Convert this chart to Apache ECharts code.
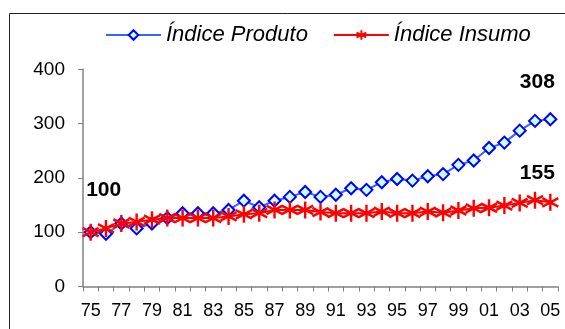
<!DOCTYPE html>
<html>
<head>
<meta charset="utf-8">
<script src="https://cdn.jsdelivr.net/npm/echarts@6/dist/echarts.min.js"></script>
<style>
  html, body { margin: 0; padding: 0; background: #ffffff; }
  #chart { width: 565px; height: 329px; }
</style>
</head>
<body>
<div id="chart"></div>
<script>
// Years 1975–2005 (two-digit labels)
const years = ['75','76','77','78','79','80','81','82','83','84','85','86','87','88','89','90',
               '91','92','93','94','95','96','97','98','99','00','01','02','03','04','05'];

// Índice Produto (1975 = 100)
const indiceProduto = [100, 97, 116, 107, 116, 126, 135, 135, 135, 141, 158, 146, 158, 165, 174, 165,
                       169, 181, 178, 192, 198, 195, 203, 207, 224, 232, 255, 265, 287, 305, 308];

// Índice Insumo (1975 = 100)
const indiceInsumo = [100, 107, 116, 119, 123, 126, 126, 126, 126, 129, 133, 135, 141, 141, 141, 137,
                      135, 135, 135, 138, 135, 135, 138, 136, 140, 144, 145, 149, 154, 159, 155];

const yTicks = [0, 100, 200, 300, 400];

const FONT = '"Liberation Sans", Arial, sans-serif';
const ASTERISK = 'path://M0,-10L0,10M-8.66,-5L8.66,5M-8.66,5L8.66,-5';

function valueLabel(offset) {
  return {
    show: true,
    position: 'top',
    offset: offset,
    formatter: '{c}',
    color: '#000000',
    fontFamily: FONT,
    fontWeight: 'bold',
    fontSize: 21
  };
}

// Attach value labels to the first and last points
function withLabels(values, labels) {
  return values.map((v, i) => labels[i] ? { value: v, label: labels[i] } : v);
}

const produtoData = withLabels(indiceProduto, {
  0: valueLabel([13, -19]),
  [indiceProduto.length - 1]: valueLabel([-13, -15])
});
const insumoData = withLabels(indiceInsumo, {
  [indiceInsumo.length - 1]: valueLabel([-13, -4])
});

const chart = echarts.init(document.getElementById('chart'), null, { renderer: 'canvas' });

chart.setOption({
  backgroundColor: '#ffffff',
  animation: false,
  textStyle: { fontFamily: FONT },
  graphic: [{
    type: 'rect',
    silent: true,
    shape: { x: 9.5, y: 13.5, width: 620, height: 400 },
    style: { fill: 'none', stroke: '#222222', lineWidth: 1 }
  }],
  legend: {
    top: 19,
    left: 100,
    itemWidth: 55,
    itemHeight: 12,
    itemGap: 25,
    textStyle: {
      fontFamily: FONT,
      fontStyle: 'italic',
      fontSize: 22,
      color: '#000000'
    },
    data: ['Índice Produto', 'Índice Insumo']
  },
  grid: {
    left: 83,
    right: 7,
    top: 69.3,
    bottom: 42.5,
    containLabel: false
  },
  xAxis: {
    type: 'category',
    data: years,
    boundaryGap: true,
    axisLine: { lineStyle: { color: '#808080', width: 1.5 } },
    axisTick: { show: true, interval: 0, length: 5, lineStyle: { color: '#808080' } },
    axisLabel: {
      interval: 1,
      color: '#000000',
      fontSize: 18,
      fontFamily: FONT,
      margin: 16
    },
    splitLine: { show: false }
  },
  yAxis: {
    type: 'value',
    min: yTicks[0],
    max: yTicks[yTicks.length - 1],
    interval: yTicks[1] - yTicks[0],
    axisLine: { show: true, lineStyle: { color: '#808080', width: 1.5 } },
    axisTick: { show: true, length: 5, lineStyle: { color: '#808080' } },
    axisLabel: {
      color: '#000000',
      fontSize: 19,
      fontFamily: FONT,
      margin: 18
    },
    splitLine: { show: false }
  },
  series: [
    {
      name: 'Índice Produto',
      type: 'line',
      data: produtoData,
      symbol: 'diamond',
      symbolSize: 12,
      showAllSymbol: true,
      lineStyle: { color: '#3366FF', width: 2 },
      itemStyle: { color: '#CCFFFF', borderColor: '#0000FF', borderWidth: 2 },
      emphasis: { disabled: true },
      z: 2
    },
    {
      name: 'Índice Insumo',
      type: 'line',
      data: insumoData,
      symbol: ASTERISK,
      symbolSize: [16, 17],
      showAllSymbol: true,
      lineStyle: { color: '#FF0000', width: 2 },
      itemStyle: { color: '#FF0000', borderColor: '#FF0000', borderWidth: 2.5 },
      emphasis: { disabled: true },
      z: 3
    }
  ]
});
</script>
</body>
</html>
